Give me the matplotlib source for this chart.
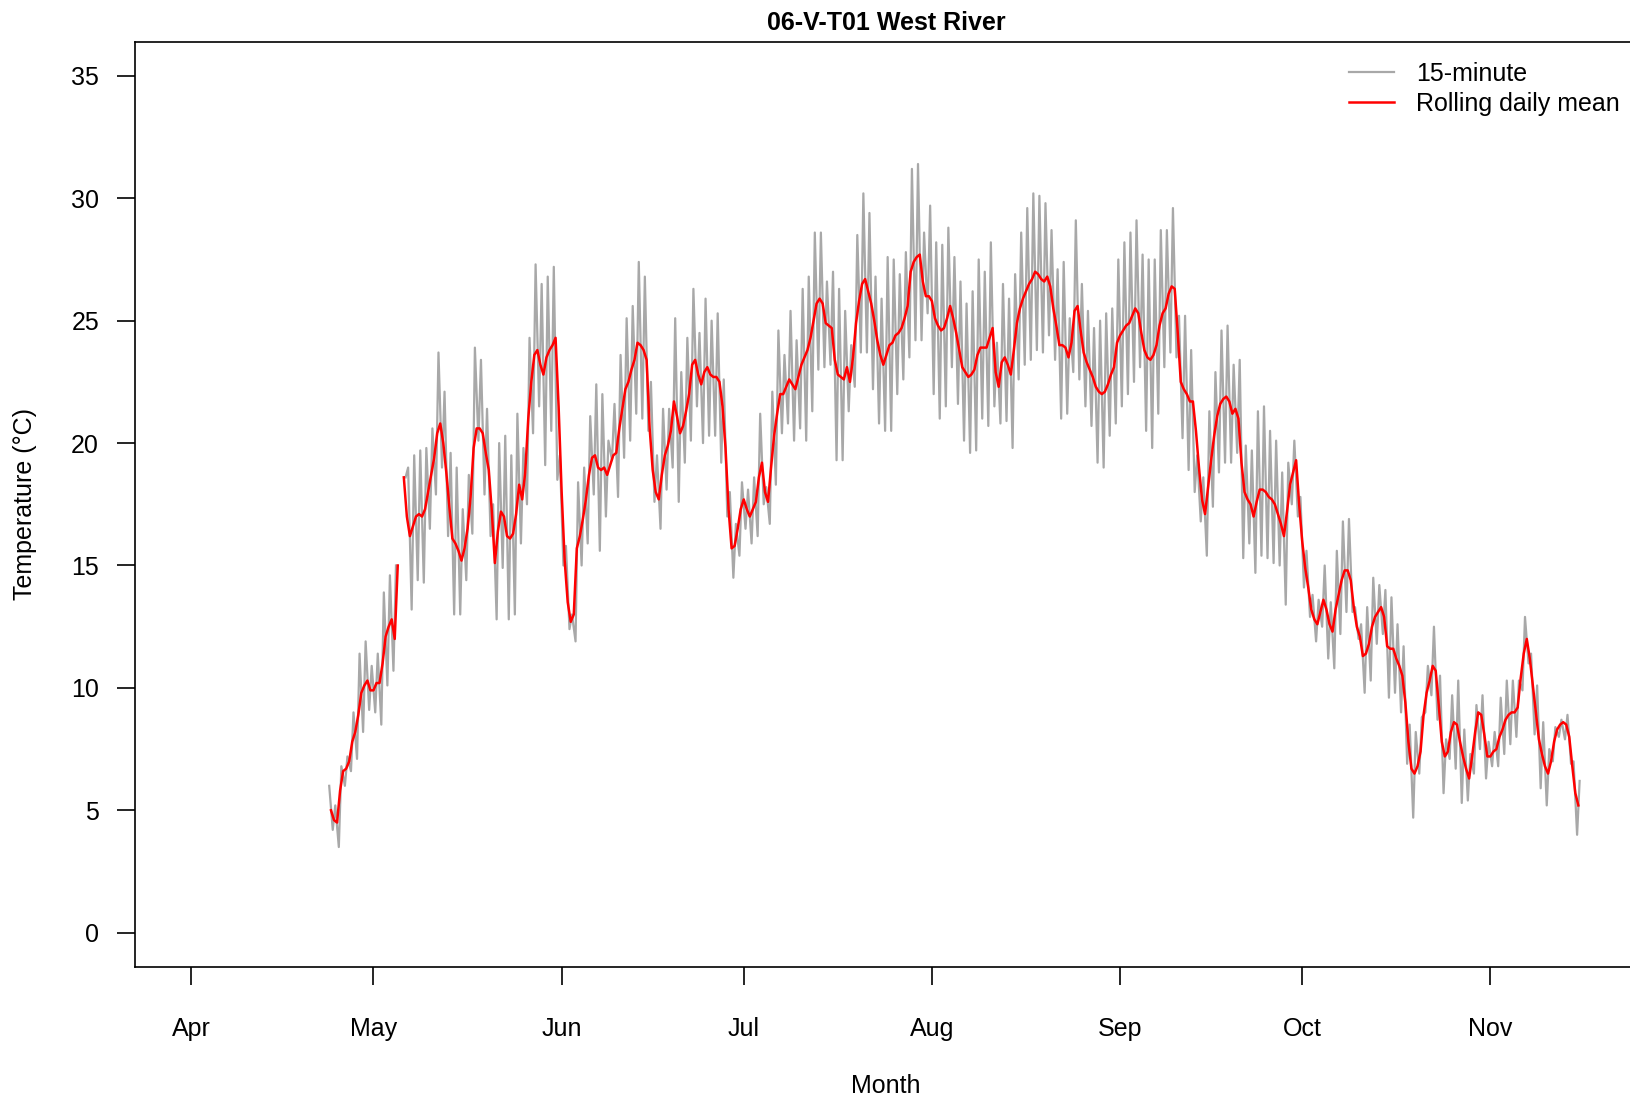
import numpy as np
import pandas as pd
import matplotlib
matplotlib.use("Agg")
import matplotlib.pyplot as plt
import matplotlib.dates as mdates

plt.rcParams['font.family'] = ['Liberation Sans', 'DejaVu Sans']

title = "06-V-T01 West River"
nan = np.nan

# daily minimum (about 07:00) and maximum (about 17:00) of the 15-minute record,
# one value per day from 2019-04-23 to 2019-11-15, nan = no data
first_day = "2019-04-23"
daily_min = [
    nan, 4.2, 3.5, 6.0, 6.6, 7.1, 8.2, 9.1, 9.0, 8.5,
    10.1, 10.7, nan, 18.6, 13.2, 14.4, 14.3, 16.5, 17.9, 19.0,
    16.2, 13.0, 13.0, 14.4, 16.3, 20.1, 17.9, 16.2, 12.8, 14.9,
    12.8, 13.0, 15.9, 17.5, 20.4, 21.5, 19.1, 20.5, 18.5, 15.0,
    12.4, 11.9, 15.0, 15.9, 17.9, 15.6, 17.0, 19.3, 17.8, 19.4,
    20.1, 21.2, 21.0, 20.5, 17.6, 16.5, 18.1, 19.0, 17.6, 19.2,
    20.1, 21.5, 20.0, 20.3, 20.3, 19.2, 17.0, 14.5, 15.4, 16.5,
    15.9, 16.2, 17.5, 16.7, 18.3, 20.4, 20.8, 20.1, 20.6, 20.1,
    21.3, 23.0, 23.1, 23.2, 19.3, 19.3, 21.3, 22.3, 23.7, 23.7,
    22.2, 20.8, 20.5, 20.5, 22.0, 22.6, 23.5, 24.2, 24.2, 25.3,
    22.0, 21.0, 21.5, 23.1, 21.6, 20.1, 19.6, 19.7, 21.0, 20.7,
    21.5, 20.8, 20.9, 19.8, 22.6, 23.2, 23.4, 23.8, 23.7, 24.4,
    23.4, 21.0, 21.2, 22.9, 22.6, 21.5, 20.7, 19.2, 19.0, 20.3,
    20.8, 21.5, 22.0, 22.5, 23.1, 20.5, 19.8, 21.2, 23.1, 23.7,
    23.5, 20.2, 18.9, 18.0, 16.8, 15.4, 17.4, 18.8, 19.2, 19.2,
    19.6, 15.3, 15.9, 14.7, 15.4, 15.3, 15.1, 15.0, 13.4, 17.5,
    17.0, 14.1, 12.9, 11.9, 12.5, 11.2, 10.8, 12.2, 13.1, 13.1,
    12.0, 9.8, 10.3, 11.8, 12.2, 9.6, 9.8, 9.0, 6.9, 4.7,
    6.5, 9.0, 9.7, 8.7, 5.7, 7.1, 6.7, 5.3, 5.4, 6.5,
    7.5, 6.3, 6.8, 6.8, 7.3, 7.7, 8.0, 9.9, 11.0, 8.1,
    5.9, 5.2, 7.0, 8.0, 7.9, 6.9, 4.0,
]
daily_max = [
    6.0, 5.2, 6.8, 7.2, 9.0, 11.4, 11.9, 10.9, 11.4, 13.9,
    14.6, 15.0, nan, 19.0, 19.5, 19.7, 19.8, 20.6, 23.7, 22.1,
    19.6, 19.0, 17.3, 18.7, 23.9, 23.4, 21.4, 17.5, 20.0, 20.3,
    19.5, 21.2, 19.8, 24.3, 27.3, 26.5, 26.8, 27.2, 19.5, 15.8,
    13.0, 18.4, 19.0, 21.1, 22.4, 22.0, 20.1, 21.6, 23.6, 25.1,
    25.6, 27.4, 26.8, 22.5, 19.5, 21.4, 21.4, 25.1, 22.9, 24.3,
    26.3, 24.5, 25.9, 25.0, 25.3, 22.6, 18.0, 16.7, 18.4, 18.1,
    18.6, 21.2, 18.2, 22.1, 24.6, 23.6, 25.4, 24.2, 26.3, 26.8,
    28.6, 28.6, 26.6, 27.0, 26.3, 25.4, 24.0, 28.5, 30.2, 29.4,
    26.8, 25.9, 27.6, 27.5, 26.9, 27.8, 31.2, 31.4, 28.6, 29.7,
    28.2, 28.1, 28.8, 27.6, 26.6, 25.7, 26.2, 27.5, 27.0, 28.2,
    24.1, 26.5, 25.9, 26.9, 28.6, 29.6, 30.2, 30.1, 29.8, 28.7,
    27.1, 27.4, 25.1, 29.1, 26.5, 25.4, 24.7, 25.0, 25.3, 25.5,
    27.5, 28.2, 28.6, 29.1, 27.7, 27.5, 27.5, 28.7, 28.7, 29.6,
    25.2, 25.2, 23.8, 19.5, 18.6, 21.3, 22.9, 24.6, 24.8, 23.2,
    23.4, 19.9, 19.7, 21.3, 21.5, 20.5, 20.1, 18.8, 19.2, 20.1,
    17.8, 15.6, 13.8, 13.6, 15.0, 13.5, 15.6, 16.8, 16.9, 13.3,
    12.6, 13.3, 14.5, 14.2, 14.0, 13.7, 12.6, 11.7, 8.5, 8.2,
    8.8, 10.9, 12.5, 10.5, 7.9, 9.7, 10.3, 8.3, 7.3, 9.3,
    9.7, 7.8, 8.2, 9.6, 10.3, 10.3, 10.3, 12.9, 11.4, 10.1,
    8.6, 7.5, 8.4, 8.7, 8.9, 7.0, 6.2,
]

# rolling daily mean, every 12 hours from 2019-04-24 00:00
mean_start = "2019-04-24 00:00"
rolling_mean = [
    5.0, 4.6, 4.5, 5.8, 6.6, 6.7, 7.0, 7.8, 8.2, 8.9,
    9.8, 10.1, 10.3, 9.9, 9.9, 10.2, 10.2, 11.0, 12.1, 12.5,
    12.8, 12.0, 15.0, nan, 18.6, 17.0, 16.2, 16.6, 17.0, 17.1,
    17.0, 17.3, 18.0, 18.7, 19.4, 20.4, 20.8, 20.0, 18.8, 17.4,
    16.1, 15.9, 15.6, 15.2, 15.7, 16.5, 17.8, 19.8, 20.6, 20.6,
    20.4, 19.6, 18.9, 17.2, 15.1, 16.4, 17.2, 17.0, 16.2, 16.1,
    16.3, 17.1, 18.3, 17.7, 18.8, 21.0, 22.5, 23.6, 23.8, 23.2,
    22.8, 23.5, 23.8, 24.0, 24.3, 21.5, 18.0, 15.2, 13.5, 12.7,
    13.0, 15.7, 16.2, 16.9, 17.7, 18.7, 19.4, 19.5, 19.0, 18.9,
    19.0, 18.7, 19.1, 19.5, 19.6, 20.6, 21.4, 22.2, 22.5, 23.0,
    23.4, 24.1, 24.0, 23.8, 23.4, 20.6, 18.9, 18.0, 17.7, 18.7,
    19.5, 19.9, 20.5, 21.7, 21.1, 20.4, 20.7, 21.3, 22.0, 23.2,
    23.4, 22.8, 22.4, 22.9, 23.1, 22.8, 22.7, 22.7, 22.5, 21.5,
    19.8, 17.3, 15.7, 15.8, 16.5, 17.3, 17.7, 17.3, 17.0, 17.3,
    17.6, 18.6, 19.2, 18.0, 17.6, 19.0, 20.3, 21.2, 22.0, 22.0,
    22.3, 22.6, 22.4, 22.2, 22.7, 23.2, 23.5, 23.8, 24.3, 25.0,
    25.7, 25.9, 25.7, 24.9, 24.8, 24.7, 23.4, 22.8, 22.7, 22.6,
    23.1, 22.5, 23.5, 24.9, 25.8, 26.5, 26.7, 26.2, 25.7, 25.0,
    24.2, 23.6, 23.2, 23.6, 24.0, 24.1, 24.4, 24.5, 24.7, 25.1,
    25.6, 27.0, 27.4, 27.6, 27.7, 26.6, 26.0, 26.0, 25.8, 25.1,
    24.8, 24.6, 24.7, 25.1, 25.6, 25.1, 24.5, 23.8, 23.1, 22.9,
    22.7, 22.8, 23.0, 23.6, 23.9, 23.9, 23.9, 24.3, 24.7, 22.9,
    22.3, 23.3, 23.5, 23.2, 22.8, 23.8, 24.9, 25.5, 25.9, 26.2,
    26.5, 26.7, 27.0, 26.9, 26.7, 26.6, 26.8, 26.4, 25.5, 24.8,
    24.0, 24.0, 23.9, 23.5, 24.1, 25.4, 25.6, 24.6, 23.7, 23.3,
    23.0, 22.7, 22.3, 22.1, 22.0, 22.1, 22.4, 22.8, 23.1, 24.1,
    24.4, 24.6, 24.8, 24.9, 25.2, 25.5, 25.3, 24.5, 23.8, 23.5,
    23.4, 23.6, 24.0, 24.8, 25.3, 25.5, 26.1, 26.4, 26.3, 24.5,
    22.5, 22.2, 22.0, 21.7, 21.7, 20.5, 19.0, 17.7, 17.1, 18.2,
    19.3, 20.3, 21.1, 21.6, 21.8, 21.9, 21.7, 21.2, 21.4, 21.0,
    19.2, 18.0, 17.7, 17.5, 17.0, 17.6, 18.1, 18.1, 18.0, 17.8,
    17.7, 17.5, 17.1, 16.7, 16.2, 17.2, 18.3, 18.8, 19.3, 17.5,
    16.0, 14.9, 14.1, 13.2, 12.8, 12.6, 13.1, 13.6, 13.2, 12.6,
    12.3, 13.2, 13.8, 14.4, 14.8, 14.8, 14.4, 13.3, 12.5, 12.1,
    11.3, 11.4, 11.8, 12.5, 12.9, 13.1, 13.3, 12.9, 11.7, 11.6,
    11.6, 11.2, 10.9, 10.5, 9.4, 7.8, 6.7, 6.5, 6.8, 7.4,
    8.9, 9.8, 10.3, 10.9, 10.7, 9.3, 7.8, 7.2, 7.4, 8.2,
    8.6, 8.5, 7.8, 7.2, 6.7, 6.3, 7.2, 8.2, 9.0, 8.9,
    8.1, 7.2, 7.2, 7.4, 7.5, 8.0, 8.3, 8.7, 8.9, 9.0,
    9.0, 9.2, 10.4, 11.4, 12.0, 11.2, 10.1, 9.0, 7.9, 7.3,
    6.8, 6.5, 7.0, 7.8, 8.3, 8.5, 8.6, 8.5, 8.0, 6.8,
    5.7, 5.2,
]

# 15-minute trace: alternate daily low and high
days = pd.date_range(first_day, periods=len(daily_min), freq="D")
t_low = (days + pd.Timedelta(hours=7)).values
t_high = (days + pd.Timedelta(hours=17)).values
t15 = np.column_stack([t_low, t_high]).ravel()
v15 = np.column_stack([daily_min, daily_max]).ravel()

t_mean = pd.date_range(mean_start, periods=len(rolling_mean), freq="12h")

fig = plt.figure(figsize=(16.31, 10.98), dpi=100)
ax = fig.add_axes([130 / 1568, 126 / 1056, 1444 / 1568, 890 / 1056])

ax.plot(t15, v15, color="#a8a8a8", lw=1.6, label="15-minute")
ax.plot(t_mean, rolling_mean, color="#ff0000", lw=1.8, label="Rolling daily mean")

apr1 = mdates.date2num(pd.Timestamp("2019-04-01"))
ax.set_xlim(apr1 - 9.25, apr1 + 238.2)
ax.set_ylim(-1.4, 36.4)
ax.set_yticks(range(0, 36, 5))
ax.xaxis.set_major_locator(mdates.MonthLocator(bymonth=range(4, 12)))
ax.xaxis.set_major_formatter(mdates.DateFormatter("%b"))

for s in ax.spines.values():
    s.set_linewidth(1.2)
ax.tick_params(direction="out", length=13, width=1.2, labelsize=18)
ax.tick_params(axis="x", pad=23)
ax.tick_params(axis="y", pad=13)

ax.set_xlabel("Month", fontsize=18)
ax.xaxis.set_label_coords(0.5, -0.129)
ax.xaxis.label.set_va("center")
ax.set_ylabel("Temperature (\u00b0C)", fontsize=18)
ax.yaxis.set_label_coords(-0.0735, 0.5)
ax.yaxis.label.set_va("center")

ax.set_title(title, fontsize=18, fontweight="bold", y=1.0205, va="center", pad=0)

ax.legend(loc="upper left", bbox_to_anchor=(0.8193, 0.955), bbox_transform=fig.transFigure,
          frameon=False, fontsize=18, borderpad=0, handlelength=1.8,
          handletextpad=0.9, labelspacing=0.25)

fig.savefig("out.png", dpi=100)
